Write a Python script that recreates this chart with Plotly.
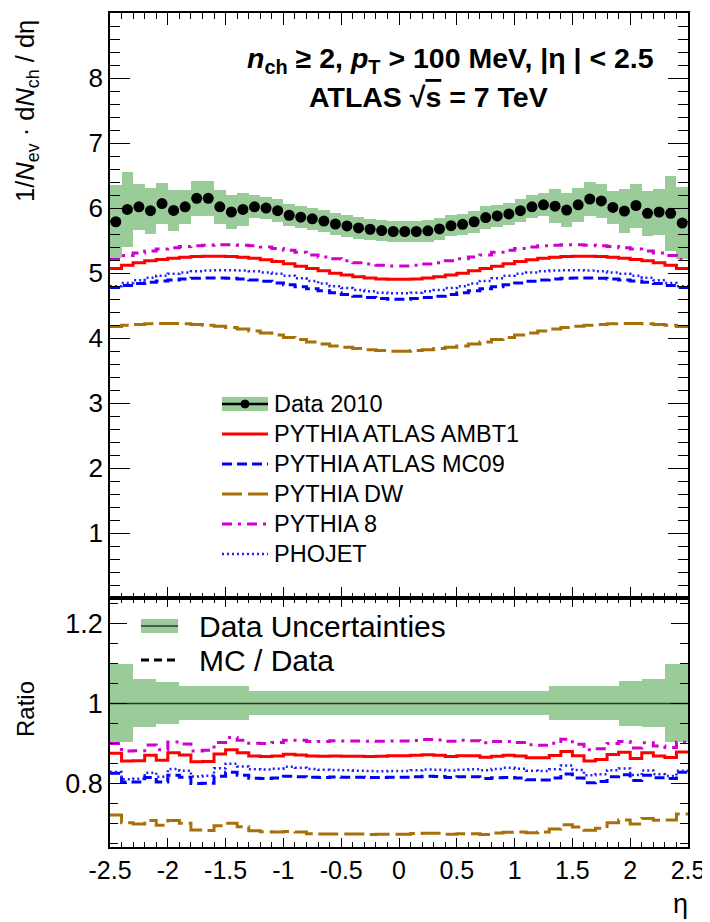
import plotly.graph_objects as go

# ---------------- data ----------------
eta_centers = [-2.45, -2.35, -2.25, -2.15, -2.05, -1.95, -1.85, -1.75, -1.65, -1.55,
               -1.45, -1.35, -1.25, -1.15, -1.05, -0.95, -0.85, -0.75, -0.65, -0.55,
               -0.45, -0.35, -0.25, -0.15, -0.05, 0.05, 0.15, 0.25, 0.35, 0.45,
               0.55, 0.65, 0.75, 0.85, 0.95, 1.05, 1.15, 1.25, 1.35, 1.45,
               1.55, 1.65, 1.75, 1.85, 1.95, 2.05, 2.15, 2.25, 2.35, 2.45]
bin_width = 0.1

data_2010 = [5.79, 5.98, 6.02, 5.96, 6.07, 5.965, 6.02, 6.15, 6.15, 6.02,
             5.94, 5.98, 6.02, 6.00, 5.96, 5.89, 5.86, 5.835, 5.80, 5.755,
             5.725, 5.695, 5.675, 5.655, 5.64, 5.64, 5.64, 5.65, 5.68, 5.73,
             5.75, 5.79, 5.855, 5.88, 5.91, 5.96, 6.02, 6.05, 6.03, 5.97,
             6.05, 6.14, 6.11, 6.01, 5.955, 6.04, 5.92, 5.94, 5.92, 5.77]

data_rel_unc = [0.097, 0.097, 0.059, 0.059, 0.053, 0.053, 0.043, 0.043, 0.043, 0.043,
                0.043, 0.043, 0.029, 0.029, 0.029, 0.029, 0.029, 0.029, 0.029, 0.029,
                0.029, 0.029, 0.029, 0.029, 0.029, 0.029, 0.029, 0.029, 0.029, 0.029,
                0.029, 0.029, 0.029, 0.029, 0.029, 0.029, 0.029, 0.029, 0.043, 0.043,
                0.043, 0.043, 0.043, 0.043, 0.056, 0.056, 0.059, 0.059, 0.097, 0.097]

pythia_ambt1 = [5.07, 5.12, 5.16, 5.19, 5.21, 5.23, 5.245, 5.255, 5.26, 5.26,
                5.255, 5.245, 5.23, 5.205, 5.18, 5.145, 5.105, 5.07, 5.035, 5.0,
                4.97, 4.945, 4.925, 4.91, 4.905, 4.905, 4.91, 4.925, 4.945, 4.97,
                5.0, 5.035, 5.07, 5.105, 5.145, 5.18, 5.205, 5.23, 5.245, 5.255,
                5.26, 5.26, 5.255, 5.245, 5.23, 5.21, 5.19, 5.16, 5.12, 5.07]

pythia_mc09 = [4.78, 4.81, 4.84, 4.86, 4.88, 4.895, 4.91, 4.92, 4.925, 4.925,
               4.92, 4.91, 4.895, 4.875, 4.85, 4.82, 4.79, 4.76, 4.73, 4.70,
               4.67, 4.645, 4.625, 4.61, 4.60, 4.60, 4.61, 4.625, 4.645, 4.67,
               4.70, 4.73, 4.76, 4.79, 4.82, 4.85, 4.875, 4.895, 4.91, 4.92,
               4.925, 4.925, 4.92, 4.91, 4.895, 4.88, 4.86, 4.84, 4.81, 4.78]

pythia_dw = [4.18, 4.20, 4.21, 4.22, 4.225, 4.225, 4.22, 4.21, 4.20, 4.185,
             4.165, 4.14, 4.11, 4.08, 4.05, 4.01, 3.98, 3.94, 3.91, 3.88,
             3.86, 3.84, 3.82, 3.81, 3.80, 3.80, 3.81, 3.82, 3.84, 3.86,
             3.88, 3.91, 3.94, 3.98, 4.01, 4.05, 4.08, 4.11, 4.14, 4.165,
             4.185, 4.20, 4.21, 4.22, 4.225, 4.225, 4.22, 4.21, 4.20, 4.18]

pythia_8 = [5.21, 5.27, 5.31, 5.34, 5.37, 5.39, 5.41, 5.42, 5.43, 5.435,
            5.435, 5.43, 5.42, 5.40, 5.38, 5.35, 5.32, 5.28, 5.25, 5.22,
            5.19, 5.16, 5.14, 5.12, 5.11, 5.11, 5.12, 5.14, 5.16, 5.19,
            5.22, 5.25, 5.28, 5.32, 5.35, 5.38, 5.40, 5.42, 5.43, 5.435,
            5.435, 5.43, 5.42, 5.41, 5.39, 5.37, 5.34, 5.31, 5.27, 5.21]

phojet = [4.80, 4.85, 4.89, 4.93, 4.96, 4.99, 5.01, 5.03, 5.04, 5.045,
          5.045, 5.04, 5.03, 5.01, 4.99, 4.96, 4.92, 4.88, 4.84, 4.80,
          4.77, 4.74, 4.72, 4.70, 4.69, 4.69, 4.70, 4.72, 4.74, 4.77,
          4.80, 4.84, 4.88, 4.92, 4.96, 4.99, 5.01, 5.03, 5.04, 5.045,
          5.045, 5.04, 5.03, 5.01, 4.99, 4.96, 4.93, 4.89, 4.85, 4.80]

x_tick_vals = [-2.5, -2, -1.5, -1, -0.5, 0, 0.5, 1, 1.5, 2, 2.5]
x_tick_text = ["-2.5", "-2", "-1.5", "-1", "-0.5", "0", "0.5", "1", "1.5", "2", "2.5"]
y_tick_vals = [1, 2, 3, 4, 5, 6, 7, 8]
r_tick_vals = [0.8, 1.0, 1.2]
r_tick_text = ["0.8", "1", "1.2"]

# ---------------- styles ----------------
FONT = "Liberation Sans, Arial, Helvetica, sans-serif"
GREEN = "rgb(153,204,153)"
mc_series = [
    ("PYTHIA ATLAS AMBT1", pythia_ambt1, "#FF0000", "solid", 3),
    ("PYTHIA ATLAS MC09", pythia_mc09, "#0000FF", "10px,5px", 3),
    ("PYTHIA DW", pythia_dw, "rgb(168,112,8)", "20px,6px", 3),
    ("PYTHIA 8", pythia_8, "#D000D0", "10px,6px,3px,6px", 3),
    ("PHOJET", phojet, "#1E1EFF", "2px,3px", 2.5),
]

lo_edges = [c - bin_width / 2 for c in eta_centers]
edges = lo_edges + [eta_centers[-1] + bin_width / 2]


def step(vals):
    return edges, list(vals) + [vals[-1]]


fig = go.Figure()

# --- top panel ---
abs_unc = [d * u for d, u in zip(data_2010, data_rel_unc)]
fig.add_trace(go.Bar(x=eta_centers, y=[2 * a for a in abs_unc],
                     base=[d - a for d, a in zip(data_2010, abs_unc)],
                     width=bin_width, marker=dict(color=GREEN, line=dict(width=0)),
                     xaxis="x", yaxis="y", showlegend=False, hoverinfo="skip"))
for name, vals, col, dash, w in mc_series:
    xs, ys = step(vals)
    fig.add_trace(go.Scatter(x=xs, y=ys, mode="lines", line=dict(color=col, dash=dash, width=w, shape="hv"),
                             xaxis="x", yaxis="y", name=name, showlegend=False))
fig.add_trace(go.Scatter(x=eta_centers, y=data_2010, mode="markers",
                         marker=dict(color="black", size=11),
                         xaxis="x", yaxis="y", name="Data 2010", showlegend=False))

# --- ratio panel ---
fig.add_trace(go.Bar(x=eta_centers, y=[2 * u for u in data_rel_unc],
                     base=[1 - u for u in data_rel_unc],
                     width=bin_width, marker=dict(color=GREEN, line=dict(width=0)),
                     xaxis="x2", yaxis="y2", showlegend=False, hoverinfo="skip"))
fig.add_trace(go.Scatter(x=[edges[0], edges[-1]], y=[1, 1], mode="lines",
                         line=dict(color="#333333", width=1.5),
                         xaxis="x2", yaxis="y2", showlegend=False))
for name, vals, col, dash, w in mc_series:
    ratio = [m / d for m, d in zip(vals, data_2010)]
    xs, ys = step(ratio)
    fig.add_trace(go.Scatter(x=xs, y=ys, mode="lines", line=dict(color=col, dash=dash, width=w, shape="hv"),
                             xaxis="x2", yaxis="y2", showlegend=False))

# ---------------- layout ----------------
SPLIT = 0.2982
ax_common = dict(showline=True, linecolor="black", linewidth=1.5, mirror="ticks",
                 ticks="inside", tickcolor="black", showgrid=False, zeroline=False,
                 automargin=False)

# page has an 8px body margin: shift margins so the plot frame lands at
# x 110..688, y 13..847 in the browser window
fig.update_layout(
    width=710, height=922,
    margin=dict(l=102, r=30, t=5, b=83),
    paper_bgcolor="white", plot_bgcolor="white",
    bargap=0, barmode="overlay",
    font=dict(family=FONT, color="black", size=25),
    showlegend=False,
    xaxis=dict(domain=[0, 1], anchor="y", range=[-2.5, 2.5], tickvals=x_tick_vals,
               ticktext=x_tick_text, showticklabels=False, ticklen=12,
               minor=dict(ticks="inside", dtick=0.1, tick0=0, ticklen=6, tickcolor="black"),
               **ax_common),
    yaxis=dict(domain=[SPLIT, 1], anchor="x", range=[0, 9], tickvals=y_tick_vals,
               ticklen=20, tickfont=dict(size=26),
               minor=dict(ticks="inside", dtick=0.2, tick0=0, ticklen=10, tickcolor="black"),
               **ax_common),
    xaxis2=dict(domain=[0, 1], anchor="y2", range=[-2.5, 2.5], tickvals=x_tick_vals,
                ticktext=x_tick_text, ticklen=9, tickfont=dict(size=25),
                minor=dict(ticks="inside", dtick=0.1, tick0=0, ticklen=5, tickcolor="black"),
                **ax_common),
    yaxis2=dict(domain=[0, SPLIT], anchor="x2", range=[0.642, 1.262], tickvals=r_tick_vals,
                ticktext=r_tick_text, ticklen=17, tickfont=dict(size=27),
                minor=dict(ticks="inside", dtick=0.05, tick0=0, ticklen=8, tickcolor="black"),
                **ax_common),
)

PLOT_L, PLOT_W, PLOT_B, PLOT_H = 110, 578, 847, 834


def px(xp):
    return (xp - PLOT_L) / PLOT_W


def py(yp):
    return (PLOT_B - yp) / PLOT_H


ann = []
# axis titles
ann.append(dict(text="1/<i>N</i><sub>ev</sub> · d<i>N</i><sub>ch</sub> / dη", textangle=-90,
                x=px(27), y=py(18), xanchor="center", yanchor="top", font=dict(size=25.5)))
ann.append(dict(text="Ratio", textangle=-90, x=px(25), y=py(709), xanchor="center",
                yanchor="middle", font=dict(size=24)))
ann.append(dict(text="η", x=px(680), y=py(904), xanchor="center", yanchor="middle",
                font=dict(size=27)))
# header texts
ann.append(dict(text="<b><i>n</i><sub>ch</sub> ≥ 2, <i>p</i><sub>T</sub> &gt; 100 MeV, |η | &lt; 2.5</b>",
                x=px(450), y=py(60), xanchor="center", yanchor="middle", font=dict(size=28.5)))
ann.append(dict(text="<b>ATLAS √<span style='text-decoration:overline'>s</span> = 7 TeV</b>",
                x=px(428), y=py(97), xanchor="center", yanchor="middle", font=dict(size=28.5)))

shapes = []
# top legend
leg_rows = [404, 434, 464, 494, 524, 554]
sx0, sx1, tx = 222, 268, 272
ann.append(dict(text="Data 2010", x=px(tx), y=py(leg_rows[0]), xanchor="left", yanchor="middle",
                font=dict(size=23.5)))
shapes.append(dict(type="rect", xref="paper", yref="paper", x0=px(sx0), x1=px(sx1),
                   y0=py(leg_rows[0] + 7), y1=py(leg_rows[0] - 7), fillcolor=GREEN, line=dict(width=0)))
shapes.append(dict(type="line", xref="paper", yref="paper", x0=px(sx0), x1=px(sx1),
                   y0=py(leg_rows[0]), y1=py(leg_rows[0]), line=dict(color="black", width=2.5)))
shapes.append(dict(type="circle", xref="paper", yref="paper", x0=px(245 - 4), x1=px(245 + 4),
                   y0=py(leg_rows[0] + 4), y1=py(leg_rows[0] - 4), fillcolor="black",
                   line=dict(color="black", width=1)))
for (name, vals, col, dash, w), yy in zip(mc_series, leg_rows[1:]):
    shapes.append(dict(type="line", xref="paper", yref="paper", x0=px(sx0), x1=px(sx1),
                       y0=py(yy), y1=py(yy), line=dict(color=col, width=w, dash=dash)))
    ann.append(dict(text=name, x=px(tx), y=py(yy), xanchor="left", yanchor="middle",
                    font=dict(size=23.5)))

# ratio legend
shapes.append(dict(type="rect", xref="paper", yref="paper", x0=px(141), x1=px(178),
                   y0=py(633), y1=py(619), fillcolor=GREEN, line=dict(width=0)))
shapes.append(dict(type="line", xref="paper", yref="paper", x0=px(141), x1=px(178),
                   y0=py(626), y1=py(626), line=dict(color="#333333", width=1.5)))
ann.append(dict(text="Data Uncertainties", x=px(197), y=py(626), xanchor="left", yanchor="middle",
                font=dict(size=30)))
shapes.append(dict(type="line", xref="paper", yref="paper", x0=px(141), x1=px(178),
                   y0=py(660), y1=py(660), line=dict(color="black", width=3, dash="8px,5px")))
ann.append(dict(text="MC / Data", x=px(197), y=py(660), xanchor="left", yanchor="middle",
                font=dict(size=30)))

for a in ann:
    a.setdefault("xref", "paper")
    a.setdefault("yref", "paper")
    a["showarrow"] = False
fig.update_layout(annotations=ann, shapes=shapes)

fig.write_html("out.html")
